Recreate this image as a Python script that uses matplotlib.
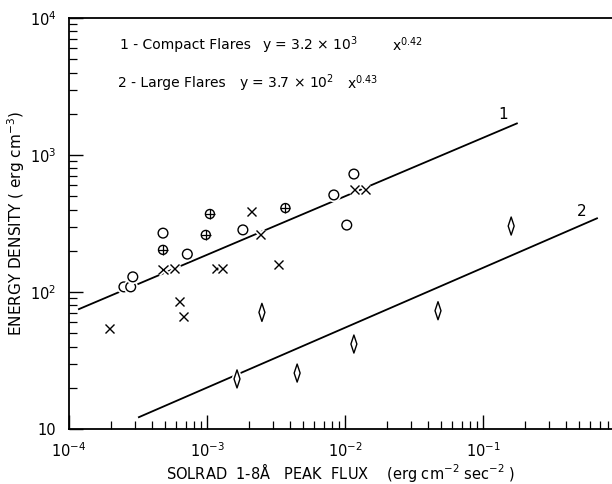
import matplotlib
matplotlib.use("Agg")
import matplotlib.pyplot as plt
import matplotlib.patheffects as pe
from matplotlib.path import Path
from matplotlib.ticker import LogLocator, NullFormatter, FixedLocator

plt.rcParams['font.family'] = ['DejaVu Sans']
plt.rcParams['mathtext.default'] = 'regular'

# data
cross_x = [1.95e-4, 4.8e-4, 5.8e-4, 6.3e-4, 6.8e-4, 1.18e-3, 1.29e-3, 2.1e-3, 2.46e-3, 3.3e-3, 1.18e-2, 1.40e-2]
cross_y = [54, 147, 149, 85, 66, 149, 149, 384, 261, 160, 556, 556]

circle_x = [2.5e-4, 2.8e-4, 2.9e-4, 4.8e-4, 7.2e-4, 1.82e-3, 8.3e-3, 1.03e-2, 1.16e-2]
circle_y = [109, 109, 129, 269, 189, 284, 511, 308, 726]

oplus_x = [4.8e-4, 9.8e-4, 1.05e-3, 3.7e-3]
oplus_y = [203, 261, 371, 410]

diamond_x = [1.65e-3, 2.5e-3, 4.5e-3, 1.16e-2, 4.72e-2, 0.16]
diamond_y = [23.2, 71, 25.6, 41.7, 73, 303]

fit1_x = [1.18e-4, 0.176]
fit1_y = [75, 1700]
fit2_x = [3.21e-4, 0.67]
fit2_y = [12.2, 345]

x_ticks = [1e-4, 1e-3, 1e-2, 1e-1]
x_ticklabels = [r'$10^{-4}$', r'$10^{-3}$', r'$10^{-2}$', r'$10^{-1}$']
y_ticks = [10, 1e2, 1e3, 1e4]
y_ticklabels = ['10', r'$10^{2}$', r'$10^{3}$', r'$10^{4}$']

fig = plt.figure(figsize=(6.12, 4.84), dpi=100)
ax = fig.add_axes([69 / 612, 1 - 429 / 484, 1 - 69 / 612, (429 - 18) / 484])
ax.set_xscale('log')
ax.set_yscale('log')
ax.set_xlim(1e-4, 10 ** (-4 + 543 / 138))
ax.set_ylim(10, 1e4)

ax.plot(fit1_x, fit1_y, color='black', lw=1.3, zorder=1)
ax.plot(fit2_x, fit2_y, color='black', lw=1.3, zorder=1)

halo = [pe.withStroke(linewidth=3.5, foreground='white')]
diamond = Path([(0, 1), (0.33, 0), (0, -1), (-0.33, 0), (0, 1)],
               [Path.MOVETO, Path.LINETO, Path.LINETO, Path.LINETO, Path.CLOSEPOLY])

ax.plot(cross_x, cross_y, ls='none', marker='x', ms=6.5, mew=1.0, color='black', zorder=3, path_effects=halo)
ax.plot(circle_x, circle_y, ls='none', marker='o', ms=7, mew=1.0, mfc='white', mec='black', zorder=3, path_effects=halo)
ax.plot(oplus_x, oplus_y, ls='none', marker='o', ms=6.5, mew=1.0, mfc='white', mec='black', zorder=3, path_effects=halo)
ax.plot(oplus_x, oplus_y, ls='none', marker='+', ms=6.5, mew=0.9, color='black', zorder=4)
ax.plot(diamond_x, diamond_y, ls='none', marker=diamond, ms=13, mew=1.0, mfc='white', mec='black', zorder=3, path_effects=halo)

ax.text(0.14, 1960, '1', fontsize=11, ha='center', va='center')
ax.text(0.52, 390, '2', fontsize=11, ha='center', va='center')

fs = 10
ax.text(2.35e-4, 6350, '1 - Compact Flares', fontsize=fs, va='center')
ax.text(2.5e-3, 6350, r'y = 3.2 $\times$ 10$^3$', fontsize=fs, va='center')
ax.text(2.19e-2, 6350, r'x$^{0.42}$', fontsize=fs, va='center')
ax.text(2.27e-4, 3360, '2 - Large Flares', fontsize=fs, va='center')
ax.text(1.7e-3, 3360, r'y = 3.7 $\times$ 10$^2$', fontsize=fs, va='center')
ax.text(1.03e-2, 3360, r'x$^{0.43}$', fontsize=fs, va='center')

ax.xaxis.set_major_locator(FixedLocator(x_ticks))
ax.set_xticklabels(x_ticklabels)
ax.yaxis.set_major_locator(FixedLocator(y_ticks))
ax.set_yticklabels(y_ticklabels)
for axis in (ax.xaxis, ax.yaxis):
    axis.set_minor_locator(LogLocator(base=10, subs=range(2, 10), numticks=20))
    axis.set_minor_formatter(NullFormatter())
ax.tick_params(which='major', direction='in', length=10, width=1.0, labelsize=10.5)
ax.tick_params(axis='x', which='major', pad=9)
ax.tick_params(axis='y', which='major', pad=9)
ax.tick_params(which='minor', direction='in', length=6, width=0.9)
ax.tick_params(axis='x', which='both', top=False)
ax.tick_params(axis='y', which='both', right=False)

ax.spines['right'].set_visible(False)
for s in ('left', 'bottom', 'top'):
    ax.spines[s].set_linewidth(1.3)

ax.set_xlabel(r'SOLRAD  1-8$\AA$   PEAK  FLUX    (erg cm$^{-2}$ sec$^{-2}$ )', fontsize=10.5)
ax.xaxis.set_label_coords(0.5, -0.078)
ax.set_ylabel(r'ENERGY DENSITY ( erg cm$^{-3}$)', fontsize=11)
ax.yaxis.set_label_coords(-0.077, 0.5)

fig.savefig('out.png', dpi=100)
